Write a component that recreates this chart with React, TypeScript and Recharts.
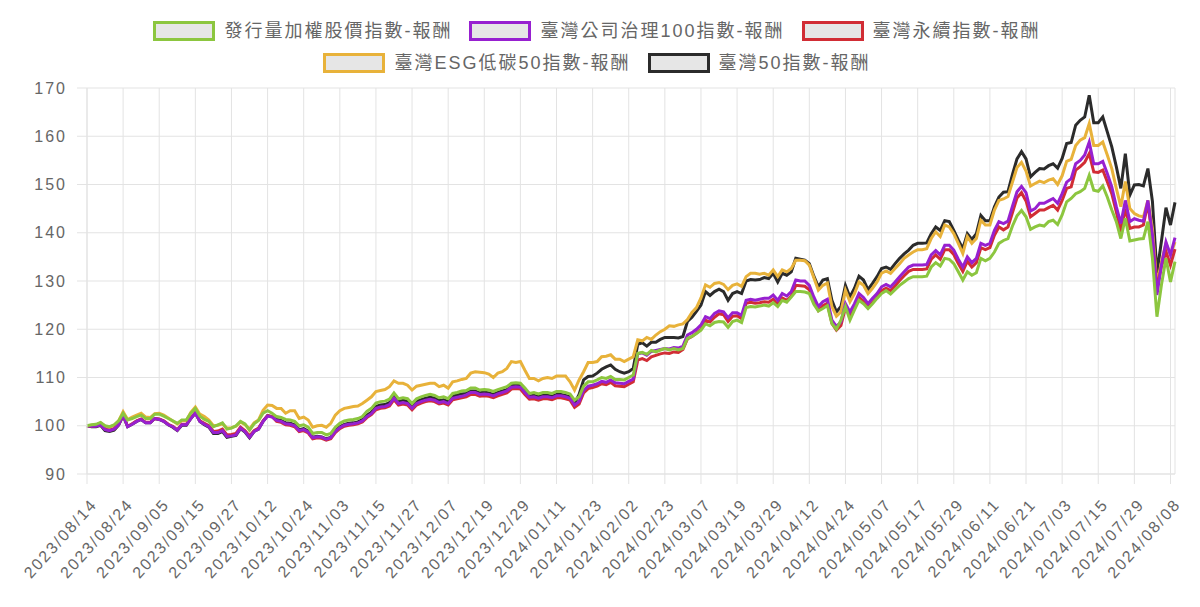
import React from 'react';
import { LineChart, Line, XAxis, YAxis, CartesianGrid } from 'recharts';

const FONT = "'Liberation Sans', 'Noto Sans CJK TC', sans-serif";
const GRID = '#e3e3e3';
const TEXT = '#666';

// Taiwan trading days: weekdays from START to END minus market holidays
const START = '2023-08-14';
const END = '2024-08-09';
const HOLIDAYS = [
  '2023-09-29', '2023-10-09', '2023-10-10', '2024-01-01',
  '2024-02-06', '2024-02-07', '2024-02-08', '2024-02-09', '2024-02-12', '2024-02-13', '2024-02-14',
  '2024-02-28', '2024-04-04', '2024-04-05', '2024-05-01', '2024-06-10', '2024-07-24', '2024-07-25',
];

const Y_TICKS = [90, 100, 110, 120, 130, 140, 150, 160, 170];

const SERIES = [
  { key: 'g', name: '發行量加權股價指數-報酬', color: '#8cc63f' },
  { key: 'p', name: '臺灣公司治理100指數-報酬', color: '#9720d0' },
  { key: 'r', name: '臺灣永續指數-報酬', color: '#d12d35' },
  { key: 'o', name: '臺灣ESG低碳50指數-報酬', color: '#e8b23a' },
  { key: 'k', name: '臺灣50指數-報酬', color: '#2b2b2b' },
];

const GREEN = [
  100.0, 100.2, 100.3, 100.7, 100.0, 99.8, 100.2, 101.0, 102.6, 101.2,
  101.5, 101.9, 102.2, 101.5, 101.5, 102.4, 102.4, 102.0, 101.5, 101.0,
  100.5, 101.2, 101.2, 102.6, 103.6, 102.0, 101.3, 100.9, 99.8, 100.2,
  100.6, 99.3, 99.5, 100.0, 100.9, 100.4, 99.1, 100.4, 101.1, 102.6,
  103.1, 102.6, 101.9, 101.7, 101.3, 101.2, 100.9, 100.0, 100.2, 99.7,
  98.4, 98.6, 98.6, 98.1, 98.4, 99.7, 100.5, 101.0, 101.2, 101.3,
  101.5, 101.9, 103.0, 103.6, 104.7, 105.0, 105.1, 105.5, 106.8, 105.6,
  105.8, 105.6, 104.6, 105.6, 106.0, 106.3, 106.5, 106.3, 105.8, 106.0,
  105.6, 106.7, 106.9, 107.2, 107.3, 107.8, 107.8, 107.4, 107.5, 107.4,
  107.1, 107.5, 107.8, 108.1, 108.8, 108.9, 108.8, 107.8, 106.7, 106.9,
  106.6, 106.9, 106.9, 106.7, 107.1, 107.1, 106.9, 106.6, 105.3, 106.0,
  108.2, 109.1, 109.1, 109.5, 110.0, 109.8, 110.2, 109.6, 109.6, 109.5,
  110.0, 110.5, 115.0, 115.2, 114.8, 115.6, 115.3, 115.7, 116.0, 115.7,
  116.0, 115.7, 116.0, 118.1, 118.5, 119.1, 119.8, 121.1, 120.7, 121.4,
  121.6, 121.5, 120.4, 121.6, 121.9, 121.4, 124.5, 124.7, 124.6, 124.8,
  125.0, 124.8, 125.5, 124.7, 126.0, 125.6, 126.7, 127.8, 127.8, 127.7,
  127.4, 125.2, 123.8, 124.3, 124.9, 121.2, 120.0, 121.9, 124.7, 121.9,
  124.0, 126.0, 125.3, 124.3, 125.3, 126.4, 127.4, 128.0, 127.3, 128.2,
  129.1, 129.8, 130.5, 130.9, 130.9, 130.9, 131.0, 132.9, 133.8, 133.1,
  134.7, 134.5, 133.6, 131.9, 130.2, 131.9, 131.2, 131.7, 134.7, 134.2,
  134.7, 136.0, 137.8, 138.4, 138.8, 141.4, 143.5, 144.6, 143.3, 140.7,
  141.2, 141.6, 141.4, 142.3, 142.6, 141.7, 143.7, 146.4, 147.1, 148.1,
  148.5, 149.2, 151.9, 148.8, 148.6, 149.7, 147.4, 144.7, 142.3, 138.8,
  143.0, 138.3, 138.5, 138.7, 138.8, 142.3, 134.7, 122.6, 129.2, 134.7,
  129.8, 134.0,
];

const PURPLE = [
  100.0, 99.9, 99.9, 100.2, 99.2, 99.0, 99.3, 100.2, 102.2, 99.8,
  100.3, 100.9, 101.3, 100.6, 100.6, 101.5, 101.3, 100.9, 100.2, 99.8,
  99.1, 100.2, 100.2, 101.5, 102.6, 100.9, 100.3, 99.8, 98.6, 98.6,
  99.0, 97.8, 97.9, 98.1, 99.5, 98.8, 97.6, 98.8, 99.3, 100.9,
  102.0, 101.8, 101.1, 100.9, 100.4, 100.3, 100.0, 99.0, 99.2, 98.7,
  97.5, 97.7, 97.6, 97.2, 97.5, 98.8, 99.6, 100.1, 100.3, 100.4,
  100.6, 101.0, 101.9, 102.5, 103.6, 103.9, 104.0, 104.4, 105.7, 104.6,
  104.8, 104.6, 103.6, 104.6, 105.0, 105.3, 105.5, 105.3, 104.8, 105.0,
  104.6, 105.7, 105.9, 106.1, 106.4, 106.9, 106.9, 106.5, 106.6, 106.5,
  106.2, 106.6, 106.9, 107.2, 108.0, 108.1, 108.0, 106.9, 105.9, 106.0,
  105.7, 106.0, 106.0, 105.8, 106.2, 106.2, 106.0, 105.7, 104.3, 105.0,
  107.3, 108.2, 108.4, 108.7, 109.2, 109.0, 109.5, 108.9, 108.8, 108.7,
  109.2, 109.7, 114.9, 115.1, 114.6, 115.4, 115.6, 115.8, 116.0, 115.9,
  116.2, 116.1, 116.5, 118.8, 119.3, 120.0, 120.9, 122.6, 122.2, 123.3,
  123.8, 123.6, 122.4, 123.4, 123.4, 122.9, 126.0, 126.2, 126.0, 126.2,
  126.4, 126.4, 127.1, 126.0, 127.4, 126.9, 127.8, 130.2, 130.0, 130.0,
  129.1, 126.7, 124.7, 125.7, 126.2, 121.9, 120.6, 121.5, 125.3, 123.6,
  125.3, 127.4, 126.6, 125.3, 126.4, 127.4, 128.8, 129.3, 128.8, 129.8,
  130.9, 131.9, 132.9, 133.3, 133.3, 133.3, 133.4, 135.4, 136.3, 135.4,
  137.4, 137.4, 136.4, 134.5, 132.9, 135.0, 133.8, 134.7, 137.8, 137.4,
  137.8, 140.5, 142.3, 141.9, 142.4, 145.5, 148.5, 149.6, 148.3, 144.5,
  145.0, 146.1, 146.1, 146.6, 147.1, 146.1, 148.1, 150.5, 151.2, 154.3,
  155.0, 156.1, 158.8, 154.3, 154.3, 154.8, 152.3, 149.5, 145.4, 141.9,
  146.7, 142.3, 142.9, 142.6, 142.4, 146.7, 139.5, 127.1, 133.3, 138.1,
  135.4, 139.0,
];

const RED = [
  100.0, 99.9, 100.0, 100.3, 99.3, 99.1, 99.4, 100.3, 102.2, 99.9,
  100.4, 101.0, 101.4, 100.7, 100.7, 101.5, 101.4, 101.0, 100.3, 99.9,
  99.2, 100.3, 100.3, 101.6, 102.7, 101.0, 100.5, 100.0, 98.8, 98.9,
  99.3, 98.1, 98.2, 98.4, 99.7, 99.0, 97.9, 99.0, 99.5, 101.0,
  102.1, 101.9, 100.9, 100.7, 100.2, 100.1, 99.8, 98.8, 99.0, 98.5,
  97.3, 97.5, 97.4, 97.0, 97.3, 98.6, 99.4, 99.9, 100.1, 100.2,
  100.4, 100.8, 101.7, 102.3, 103.3, 103.6, 103.7, 104.1, 105.4, 104.3,
  104.5, 104.3, 103.3, 104.3, 104.7, 105.0, 105.2, 105.0, 104.5, 104.7,
  104.3, 105.4, 105.6, 105.8, 106.0, 106.5, 106.5, 106.1, 106.2, 106.1,
  105.8, 106.2, 106.5, 106.8, 107.6, 107.7, 107.6, 106.5, 105.5, 105.6,
  105.3, 105.6, 105.6, 105.4, 105.8, 105.8, 105.6, 105.3, 103.8, 104.5,
  106.8, 107.7, 107.9, 108.2, 108.7, 108.5, 109.0, 108.3, 108.2, 108.1,
  108.6, 109.1, 113.6, 113.9, 113.5, 114.3, 114.6, 114.9, 115.1, 115.0,
  115.3, 115.2, 115.8, 118.0, 118.5, 119.2, 120.0, 121.9, 121.5, 122.5,
  123.2, 123.0, 121.6, 122.7, 122.8, 122.2, 125.4, 125.6, 125.4, 125.5,
  125.7, 125.6, 126.2, 125.1, 126.5, 126.0, 126.9, 129.1, 129.0, 128.9,
  128.2, 125.9, 123.9, 124.9, 125.4, 121.2, 119.8, 120.8, 124.5, 122.8,
  124.5, 126.6, 125.8, 124.5, 125.6, 126.6, 128.0, 128.5, 128.0, 129.0,
  130.1, 131.1, 132.0, 132.4, 132.4, 132.4, 132.5, 134.5, 135.4, 134.5,
  136.5, 136.5, 135.5, 133.6, 132.0, 134.1, 132.9, 133.8, 136.9, 136.5,
  136.9, 139.5, 141.2, 140.6, 141.2, 144.2, 147.2, 148.3, 146.6, 143.3,
  144.0, 144.7, 144.7, 145.2, 145.7, 144.7, 146.7, 149.2, 149.5, 153.0,
  153.7, 154.6, 156.4, 152.6, 152.5, 153.0, 150.6, 148.1, 144.3, 140.2,
  145.0, 140.9, 141.2, 141.2, 141.6, 146.1, 138.8, 128.5, 133.0, 136.1,
  133.3, 136.6,
];

const ORANGE = [
  100.0, 100.1, 100.2, 100.6, 99.9, 99.7, 100.1, 101.0, 102.9, 101.3,
  101.8, 102.2, 102.6, 101.8, 101.7, 102.5, 102.6, 102.2, 101.6, 101.0,
  100.4, 101.1, 101.1, 102.8, 103.9, 102.4, 101.9, 101.2, 100.0, 100.1,
  100.4, 99.5, 99.6, 99.9, 100.8, 100.2, 99.3, 100.6, 101.2, 103.2,
  104.3, 104.2, 103.6, 103.6, 102.6, 103.1, 103.1, 101.5, 101.8, 101.2,
  99.7, 100.0, 100.1, 99.7, 100.5, 102.2, 103.1, 103.6, 103.8, 104.0,
  104.1, 104.6, 105.3, 106.0, 107.1, 107.3, 107.5, 108.1, 109.3, 108.8,
  108.8, 108.4, 107.4, 108.2, 108.4, 108.6, 108.8, 108.8, 108.1, 108.4,
  107.8, 109.1, 109.3, 109.6, 109.8, 110.9, 111.2, 111.1, 111.0, 110.7,
  110.0, 110.9, 111.2, 111.9, 113.3, 113.1, 113.3, 111.5, 109.8, 109.8,
  109.3, 109.8, 110.0, 109.8, 110.3, 110.3, 110.3, 109.1, 107.4, 109.5,
  111.2, 113.1, 113.1, 113.3, 114.3, 114.4, 114.7, 113.8, 113.8, 113.3,
  113.8, 114.3, 117.8, 117.6, 118.3, 117.9, 118.8, 119.5, 120.0, 120.7,
  120.6, 120.9, 121.1, 122.0, 123.5, 124.5, 126.5, 129.2, 128.7, 129.5,
  129.7, 129.3, 128.2, 129.1, 129.4, 128.9, 130.9, 131.6, 131.6, 131.4,
  131.6, 131.2, 132.3, 130.9, 132.3, 131.9, 132.6, 134.3, 134.3, 134.2,
  133.3, 130.7, 128.1, 129.1, 129.6, 124.7, 122.7, 123.6, 128.1, 125.7,
  127.4, 129.8, 129.1, 127.4, 128.5, 129.8, 131.6, 132.1, 131.6, 132.6,
  133.6, 134.7, 135.4, 136.0, 136.5, 136.5, 136.7, 138.8, 140.2, 139.2,
  141.6, 141.2, 139.8, 137.8, 135.7, 139.2, 137.8, 138.8, 142.6, 141.6,
  141.6, 144.7, 146.7, 147.0, 147.5, 150.5, 153.5, 154.6, 152.8, 149.7,
  150.2, 150.7, 150.4, 150.9, 151.2, 150.0, 151.8, 154.8, 155.2, 158.1,
  159.2, 159.7, 162.6, 158.1, 158.1, 158.8, 156.1, 153.3, 149.2, 145.4,
  150.6, 145.0, 144.0, 143.5, 143.3, 146.7, 140.9, 129.2, 134.0, 137.8,
  135.4, 138.1,
];

const BLACK = [
  100.0, 99.8, 99.8, 100.1, 99.0, 98.8, 99.1, 100.1, 102.1, 99.8,
  100.3, 100.9, 101.3, 100.6, 100.6, 101.5, 101.3, 100.9, 100.2, 99.7,
  99.0, 100.1, 100.1, 101.5, 102.7, 100.9, 100.2, 99.7, 98.4, 98.4,
  98.8, 97.6, 97.8, 98.0, 99.4, 98.7, 97.5, 98.8, 99.3, 100.9,
  102.1, 101.9, 101.3, 101.1, 100.6, 100.5, 100.2, 99.2, 99.4, 98.9,
  97.6, 97.8, 97.7, 97.3, 97.6, 98.9, 99.8, 100.3, 100.5, 100.6,
  100.8, 101.3, 102.2, 102.8, 104.0, 104.3, 104.4, 104.8, 106.2, 105.0,
  105.3, 105.1, 104.0, 105.0, 105.4, 105.7, 105.9, 105.7, 105.2, 105.4,
  105.0, 106.1, 106.4, 106.6, 106.7, 107.2, 107.2, 106.8, 107.0, 106.8,
  106.5, 106.9, 107.2, 107.5, 108.3, 108.4, 108.3, 107.2, 106.1, 106.3,
  106.0, 106.3, 106.3, 106.1, 106.5, 106.5, 106.3, 106.0, 104.6, 106.5,
  109.5, 110.2, 110.3, 110.9, 111.7, 112.2, 112.6, 111.7, 111.2, 110.9,
  111.2, 111.9, 116.9, 117.2, 116.5, 117.3, 117.3, 117.9, 118.3, 118.3,
  118.3, 118.2, 118.5, 121.6, 122.5, 123.7, 125.0, 127.8, 127.0, 127.8,
  128.3, 127.8, 126.0, 127.4, 127.8, 127.4, 130.0, 130.3, 130.2, 130.3,
  130.7, 130.5, 131.6, 129.8, 131.6, 131.2, 131.9, 134.7, 134.5, 134.3,
  133.6, 131.0, 128.8, 130.2, 130.5, 126.0, 123.6, 124.7, 129.1, 126.7,
  128.5, 131.0, 130.2, 128.2, 129.5, 130.9, 132.6, 132.9, 132.4, 133.6,
  134.7, 135.6, 136.4, 137.4, 137.8, 137.8, 137.9, 139.8, 141.2, 140.5,
  142.5, 142.3, 140.5, 138.5, 136.7, 139.8, 138.6, 139.8, 143.6, 142.5,
  142.5, 145.4, 147.4, 148.4, 148.5, 152.1, 155.3, 156.8, 155.3, 151.6,
  152.5, 153.3, 153.2, 153.9, 154.3, 153.4, 155.4, 158.5, 158.7, 162.3,
  163.3, 164.0, 168.5, 162.8, 162.8, 164.0, 160.9, 157.8, 153.7, 149.2,
  156.4, 147.8, 149.9, 150.0, 149.7, 153.3, 146.5, 131.6, 138.3, 145.2,
  141.6, 146.3,
];

function tradingDays(): string[] {
  const out: string[] = [];
  const d = new Date(START + 'T00:00:00Z');
  const end = new Date(END + 'T00:00:00Z');
  while (d <= end) {
    const iso = d.toISOString().slice(0, 10);
    const wd = d.getUTCDay();
    if (wd !== 0 && wd !== 6 && !HOLIDAYS.includes(iso)) out.push(iso.replace(/-/g, '/'));
    d.setUTCDate(d.getUTCDate() + 1);
  }
  return out;
}

const DATES = tradingDays();
const data = DATES.map((date, i) => ({
  date, g: GREEN[i], p: PURPLE[i], r: RED[i], o: ORANGE[i], k: BLACK[i],
}));

const XTick = ({ x, y, payload }: any) => (
  <text transform={`translate(${x + 11},${y + 19}) rotate(-48)`} textAnchor="end"
    fill={TEXT} fontSize={16} letterSpacing={2} fontFamily={FONT}>
    {payload.value}
  </text>
);

const LegendItem = ({ name, color }: { name: string; color: string }) => (
  <div style={{ display: 'flex', alignItems: 'center', gap: 9 }}>
    <div style={{ width: 62, height: 20, boxSizing: 'border-box', border: `3px solid ${color}`, background: '#e6e6e6' }} />
    <span style={{ fontSize: 18, letterSpacing: 2, color: TEXT, lineHeight: '20px' }}>{name}</span>
  </div>
);

export default function App() {
  // Chart.js draws the first dataset on top, so render in reverse
  const drawOrder = [...SERIES].reverse();
  const rows = [SERIES.slice(0, 3), SERIES.slice(3)];
  return (
    <div style={{ position: 'absolute', left: 0, top: 0, width: 1200, height: 607, background: '#fff', fontFamily: FONT }}>
      <div style={{ position: 'absolute', left: 0, top: 21, width: 1194 }}>
        {rows.map((row, ri) => (
          <div key={ri} style={{ display: 'flex', justifyContent: 'center', gap: 17, marginBottom: 12 }}>
            {row.map(s => <LegendItem key={s.key} name={s.name} color={s.color} />)}
          </div>
        ))}
      </div>
      <LineChart width={1200} height={607} data={data}
        margin={{ top: 88, right: 25, left: 7, bottom: 13 }}>
        <CartesianGrid stroke={GRID} strokeWidth={1} />
        <XAxis dataKey="date" interval={7} height={120} tick={<XTick />}
          tickSize={10} axisLine={{ stroke: GRID }} tickLine={{ stroke: GRID }} />
        <YAxis domain={[90, 170]} ticks={Y_TICKS} width={80} tickSize={10} tickMargin={10}
          axisLine={{ stroke: GRID }} tickLine={{ stroke: GRID }}
          tick={{ fill: TEXT, fontSize: 16, fontFamily: FONT, letterSpacing: 2 }} />
        {drawOrder.map(s => (
          <Line key={s.key} type="linear" dataKey={s.key} name={s.name} stroke={s.color}
            strokeWidth={3} dot={false} isAnimationActive={false} />
        ))}
      </LineChart>
    </div>
  );
}
